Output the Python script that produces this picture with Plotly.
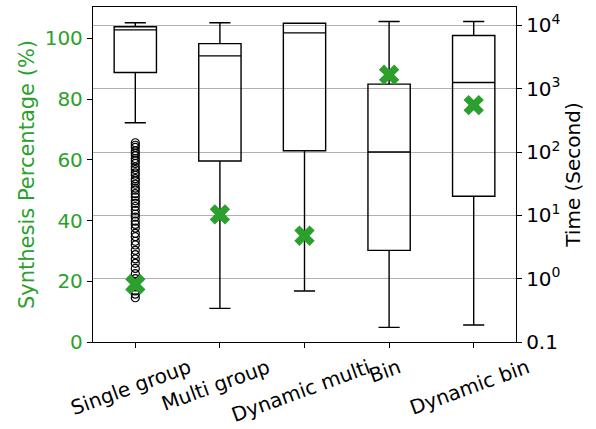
import plotly.graph_objects as go

# Methods compared
categories = ["Single group", "Multi group", "Dynamic multi", "Bin", "Dynamic bin"]

# Runtime distribution per method (seconds)
time_lower = [290, 0.34, 0.64, 0.17, 0.186]
time_q1 = [1800, 72, 105, 2.8, 20]
time_median = [8500, 3300, 7600, 100, 1250]
time_q3 = [9500, 5150, 10800, 1180, 6900]
time_upper = [11000, 11000, 10800, 11500, 11500]

# Runtime outliers of the single-group method (seconds)
single_outliers = [140, 128, 118, 104, 96, 88, 79, 73, 66, 58, 53, 47, 43, 38,
                   35, 31, 27, 25, 22, 19.5, 17, 15.5, 13.8, 12, 10.5, 9.4, 8.1,
                   7.2, 6.3, 5.2, 4.6, 3.9, 3.4, 2.8, 2.4, 2.05, 1.75, 1.45,
                   1.2, 1.0, 0.86, 0.74, 0.64, 0.57, 0.5]

# Synthesis percentage per method (%)
synthesis_pct = [19, 42, 35, 88, 78]

GREEN = "#2ca02c"
FONT = "DejaVu Sans"

fig = go.Figure()

fig.add_trace(go.Box(
    x=categories,
    q1=time_q1, median=time_median, q3=time_q3,
    lowerfence=time_lower, upperfence=time_upper,
    width=0.5, whiskerwidth=0.5,
    line=dict(color="black", width=1.4),
    fillcolor="rgba(255,255,255,0)",
    boxpoints=False,
    yaxis="y",
    showlegend=False,
))

fig.add_trace(go.Scatter(
    x=[categories[0]] * len(single_outliers),
    y=single_outliers,
    mode="markers",
    marker=dict(symbol="circle-open", size=8, color="black", line=dict(width=1.2)),
    yaxis="y",
    showlegend=False,
))

fig.add_trace(go.Scatter(
    x=categories,
    y=synthesis_pct,
    mode="markers",
    marker=dict(symbol="x", size=18, color=GREEN, line=dict(width=0)),
    yaxis="y2",
    showlegend=False,
))

for cat in categories:
    fig.add_annotation(
        x=cat, xref="x", y=0, yref="paper",
        text=cat, showarrow=False, textangle=-20,
        xanchor="center", yanchor="top", yshift=-10, xshift=-4,
        font=dict(family=FONT, size=20, color="black"),
    )

fig.update_layout(
    width=596, height=429,
    margin=dict(l=92.5, r=80, t=7, b=86.5),
    paper_bgcolor="white", plot_bgcolor="white",
    font=dict(family=FONT, size=20, color="black"),
    xaxis=dict(
        type="category", range=[-0.5, 4.5],
        showticklabels=False, ticks="outside", ticklen=5, tickcolor="black",
        showline=True, linecolor="black", linewidth=1.3, mirror=True,
        showgrid=False, zeroline=False,
    ),
    yaxis=dict(
        type="log", side="right", range=[-1.0, 4.29],
        tickvals=[0.1, 1, 10, 100, 1000, 10000],
        ticktext=["0.1", "10<sup>0</sup>", "10<sup>1</sup>", "10<sup>2</sup>",
                  "10<sup>3</sup>", "10<sup>4</sup>"],
        ticks="outside", ticklen=5, tickcolor="black",
        tickfont=dict(family=FONT, size=20, color="black"),
        showline=True, linecolor="black", linewidth=1.3,
        showgrid=True, gridcolor="#b0b0b0", gridwidth=1.1,
        zeroline=False,
        title=dict(text="Time (Second)", font=dict(family=FONT, size=20, color="black"),
                   standoff=6),
    ),
    yaxis2=dict(
        overlaying="y", side="left", range=[0, 110.3],
        tickvals=[0, 20, 40, 60, 80, 100],
        ticks="outside", ticklen=5, tickcolor="black",
        tickfont=dict(family=FONT, size=20, color=GREEN),
        showline=True, linecolor="black", linewidth=1.3,
        showgrid=False, zeroline=False,
        title=dict(text="Synthesis Percentage (%)",
                   font=dict(family=FONT, size=21, color=GREEN), standoff=4),
    ),
)

fig.write_html("out.html")
